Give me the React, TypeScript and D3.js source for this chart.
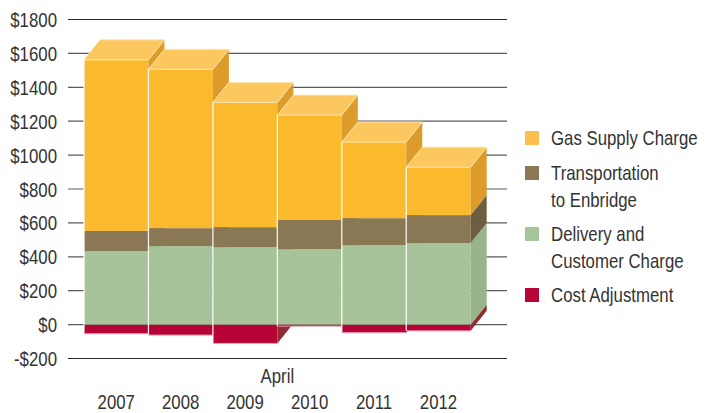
import React from 'react'
import * as d3 from 'd3'

const years = ['2007', '2008', '2009', '2010', '2011', '2012']
const gasSupply = [1009, 937, 736, 619, 449, 283]
const transportation = [119, 106, 118, 172, 159, 165]
const delivery = [434, 463, 457, 445, 469, 481]
const costAdjustment = [-54, -62, -111, -9, -48, -37]
const yTicks = [-200, 0, 200, 400, 600, 800, 1000, 1200, 1400, 1600, 1800]

const series = [
  { name: ['Gas Supply Charge'], front: '#FBBA2E', top: '#FDC75F', side: '#DC9B2A', key: '#FDBF52' },
  { name: ['Transportation', 'to Enbridge'], front: '#8A7855', top: '#9C8A66', side: '#6E5E40', key: '#8A7753' },
  { name: ['Delivery and', 'Customer Charge'], front: '#A7C399', top: '#B8D2AB', side: '#98B48A', key: '#A8C49A' },
  { name: ['Cost Adjustment'], front: '#B50435', top: '#C8264F', side: '#8F2C36', key: '#B70536' },
]

const W = 717
const H = 413
const DX = 16
const DY = 20
const FONT = "'Liberation Sans', Arial, sans-serif"
const SQUEEZE = 0.82

// condensed text: the original face is a narrow gothic, so squeeze a regular sans
function T({ x, y, anchor = 'start', children }: { x: number; y: number; anchor?: string; children: React.ReactNode }) {
  return (
    <text transform={`translate(${x},${y}) scale(${SQUEEZE},1)`} textAnchor={anchor}
      fontSize={20.5} fill="#333">
      {children}
    </text>
  )
}

export default function App() {
  const x = d3.scaleBand().domain(years).range([84, 470.7]).padding(0)
  const y = d3.scaleLinear().domain([-200, 1800]).range([358.5, 19.5])

  const bars = years.map((yr, i) => {
    const d = delivery[i]
    const t = d + transportation[i]
    const g = t + gasSupply[i]
    // bottom to top: cost, delivery, transport, gas
    const segs = [
      { lo: costAdjustment[i], hi: 0, s: series[3] },
      { lo: 0, hi: d, s: series[2] },
      { lo: d, hi: t, s: series[1] },
      { lo: t, hi: g, s: series[0] },
    ]
    return { yr, segs, top: g, bottom: costAdjustment[i] }
  })

  return (
    <svg width={W} height={H} style={{ position: 'absolute', left: 0, top: 0, background: '#fff' }}
      fontFamily={FONT}>
      {/* grid */}
      {yTicks.map(v => (
        <line key={v} x1={68} x2={507} y1={y(v)} y2={y(v)}
          stroke={v === 1800 || v === -200 ? '#2a2a2a' : '#5a5a5a'} strokeWidth={1.2} />
      ))}
      {yTicks.map(v => (
        <T key={'l' + v} x={57} y={y(v) + 7.5} anchor="end">
          {v < 0 ? `-$${Math.abs(v)}` : `$${v}`}
        </T>
      ))}

      {/* bars */}
      {bars.map(b => {
        const x0 = x(b.yr)!
        const x1 = x0 + x.bandwidth()
        const yTop = y(b.top)
        return (
          <g key={b.yr}>
            {b.segs.map((sg, j) => {
              const ya = y(sg.hi)
              const yb = y(sg.lo)
              return (
                <g key={j}>
                  <rect x={x0} y={ya} width={x1 - x0} height={yb - ya} fill={sg.s.front} />
                  <polygon
                    points={`${x1},${ya} ${x1 + DX},${ya - DY} ${x1 + DX},${yb - DY} ${x1},${yb}`}
                    fill={sg.s.side} />
                </g>
              )
            })}
            <polygon
              points={`${x0},${yTop} ${x1},${yTop} ${x1 + DX},${yTop - DY} ${x0 + DX},${yTop - DY}`}
              fill={series[0].top} stroke="#FDE6B0" strokeWidth={1} strokeLinejoin="round" />
            <line x1={x0} x2={x0} y1={yTop} y2={y(b.bottom)} stroke="#fff" strokeWidth={1.3} opacity={0.9} />
            <line x1={x0} x2={x1} y1={y(b.bottom)} y2={y(b.bottom)} stroke="#E9A3B6" strokeWidth={1} />
          </g>
        )
      })}

      {/* x labels */}
      {years.map(yr => (
        <T key={yr} x={x(yr)! + x.bandwidth() / 2} y={409} anchor="middle">{yr}</T>
      ))}
      <T x={x('2010')!} y={383} anchor="middle">April</T>

      {/* legend */}
      {series.map((s, i) => {
        const ys = [131, 166, 227, 288][i]
        return (
          <g key={i}>
            <rect x={525} y={ys} width={14} height={14} fill={s.key} />
            {s.name.map((ln, k) => (
              <T key={k} x={551} y={ys + 14 + k * 26.5}>{ln}</T>
            ))}
          </g>
        )
      })}
    </svg>
  )
}
